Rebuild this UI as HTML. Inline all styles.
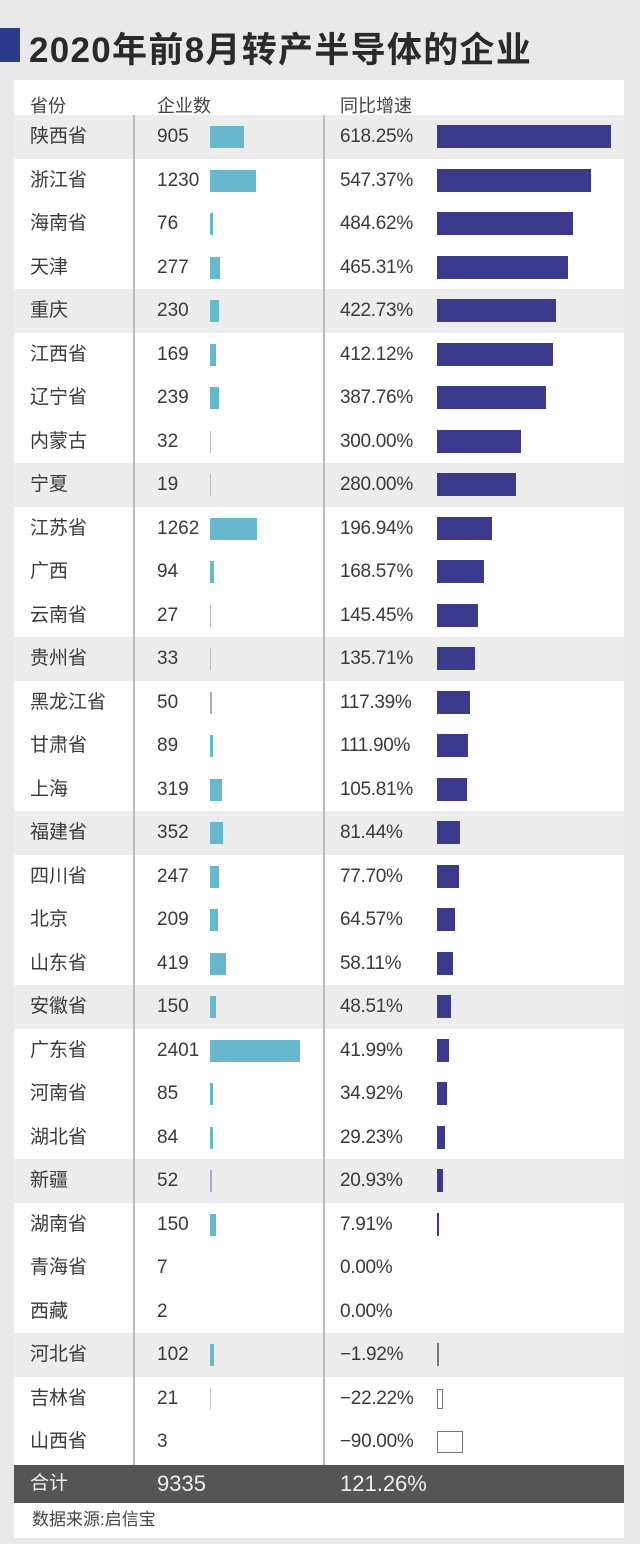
<!DOCTYPE html>
<html><head><meta charset="utf-8"><style>
*{margin:0;padding:0;box-sizing:border-box}
body{width:640px;height:1544px;background:#e9e9e9;font-family:"Liberation Sans","Noto Sans CJK SC",sans-serif;color:#3a3a3a;position:relative;overflow:hidden}
.tb{position:absolute;left:0;top:28px;width:20px;height:34px;background:#2d3a8c}
.title{position:absolute;left:29px;top:22px;font-size:35px;font-weight:bold;color:#2a2a2a;letter-spacing:1.3px;white-space:nowrap}
.panel{position:absolute;left:14px;top:80px;width:610px;height:1458px;background:#fff}
.hdr{position:absolute;top:92px;font-size:18px;color:#444}
.rows{position:absolute;left:14px;top:115px;width:610px}
.r{position:relative;height:43.5px;font-size:19px;line-height:43.5px}
.r.s{background:#ededed}
.r span{position:absolute;top:0}
.n{left:16px}.c{left:143px}.p{left:326px;letter-spacing:-0.3px}
.cb{position:absolute;left:196px;top:11px;height:22px;background:#67b8cc}
.pb{position:absolute;left:423px;top:10px;height:23px;background:#3b3a8c}
.ob{position:absolute;left:423px;top:12px;height:20px;border:1.5px solid #777;background:#fff}
.v{position:absolute;top:115px;width:1.5px;height:1350px;background:#bbb}
.tot{position:absolute;left:14px;top:1465px;width:610px;height:38px;background:#555;color:#eee;font-size:22px;line-height:38px}
.tot span{position:absolute;top:0}
.src{position:absolute;left:32px;top:1505px;font-size:17px;color:#444}
</style></head><body>
<div class="tb"></div>
<div class="title">2020年前8月转产半导体的企业</div>
<div class="panel"></div>
<div class="hdr" style="left:30px">省份</div>
<div class="hdr" style="left:157px">企业数</div>
<div class="hdr" style="left:340px">同比增速</div>
<div class="rows">
<div class="r s"><span class="n">陕西省</span><span class="c">905</span><i class="cb" style="width:34px"></i><span class="p">618.25%</span><i class="pb" style="width:174px"></i></div>
<div class="r"><span class="n">浙江省</span><span class="c">1230</span><i class="cb" style="width:46px"></i><span class="p">547.37%</span><i class="pb" style="width:154px"></i></div>
<div class="r"><span class="n">海南省</span><span class="c">76</span><i class="cb" style="width:3px"></i><span class="p">484.62%</span><i class="pb" style="width:136px"></i></div>
<div class="r"><span class="n">天津</span><span class="c">277</span><i class="cb" style="width:10px"></i><span class="p">465.31%</span><i class="pb" style="width:131px"></i></div>
<div class="r s"><span class="n">重庆</span><span class="c">230</span><i class="cb" style="width:9px"></i><span class="p">422.73%</span><i class="pb" style="width:119px"></i></div>
<div class="r"><span class="n">江西省</span><span class="c">169</span><i class="cb" style="width:6px"></i><span class="p">412.12%</span><i class="pb" style="width:116px"></i></div>
<div class="r"><span class="n">辽宁省</span><span class="c">239</span><i class="cb" style="width:9px"></i><span class="p">387.76%</span><i class="pb" style="width:109px"></i></div>
<div class="r"><span class="n">内蒙古</span><span class="c">32</span><i class="cb" style="width:1px;background:#bbb"></i><span class="p">300.00%</span><i class="pb" style="width:84px"></i></div>
<div class="r s"><span class="n">宁夏</span><span class="c">19</span><i class="cb" style="width:1px;background:#bbb"></i><span class="p">280.00%</span><i class="pb" style="width:79px"></i></div>
<div class="r"><span class="n">江苏省</span><span class="c">1262</span><i class="cb" style="width:47px"></i><span class="p">196.94%</span><i class="pb" style="width:55px"></i></div>
<div class="r"><span class="n">广西</span><span class="c">94</span><i class="cb" style="width:4px"></i><span class="p">168.57%</span><i class="pb" style="width:47px"></i></div>
<div class="r"><span class="n">云南省</span><span class="c">27</span><i class="cb" style="width:1px;background:#bbb"></i><span class="p">145.45%</span><i class="pb" style="width:41px"></i></div>
<div class="r s"><span class="n">贵州省</span><span class="c">33</span><i class="cb" style="width:1px;background:#bbb"></i><span class="p">135.71%</span><i class="pb" style="width:38px"></i></div>
<div class="r"><span class="n">黑龙江省</span><span class="c">50</span><i class="cb" style="width:2px;background:#aac"></i><span class="p">117.39%</span><i class="pb" style="width:33px"></i></div>
<div class="r"><span class="n">甘肃省</span><span class="c">89</span><i class="cb" style="width:3px"></i><span class="p">111.90%</span><i class="pb" style="width:31px"></i></div>
<div class="r"><span class="n">上海</span><span class="c">319</span><i class="cb" style="width:12px"></i><span class="p">105.81%</span><i class="pb" style="width:30px"></i></div>
<div class="r s"><span class="n">福建省</span><span class="c">352</span><i class="cb" style="width:13px"></i><span class="p">81.44%</span><i class="pb" style="width:23px"></i></div>
<div class="r"><span class="n">四川省</span><span class="c">247</span><i class="cb" style="width:9px"></i><span class="p">77.70%</span><i class="pb" style="width:22px"></i></div>
<div class="r"><span class="n">北京</span><span class="c">209</span><i class="cb" style="width:8px"></i><span class="p">64.57%</span><i class="pb" style="width:18px"></i></div>
<div class="r"><span class="n">山东省</span><span class="c">419</span><i class="cb" style="width:16px"></i><span class="p">58.11%</span><i class="pb" style="width:16px"></i></div>
<div class="r s"><span class="n">安徽省</span><span class="c">150</span><i class="cb" style="width:6px"></i><span class="p">48.51%</span><i class="pb" style="width:14px"></i></div>
<div class="r"><span class="n">广东省</span><span class="c">2401</span><i class="cb" style="width:90px"></i><span class="p">41.99%</span><i class="pb" style="width:12px"></i></div>
<div class="r"><span class="n">河南省</span><span class="c">85</span><i class="cb" style="width:3px"></i><span class="p">34.92%</span><i class="pb" style="width:10px"></i></div>
<div class="r"><span class="n">湖北省</span><span class="c">84</span><i class="cb" style="width:3px"></i><span class="p">29.23%</span><i class="pb" style="width:8px"></i></div>
<div class="r s"><span class="n">新疆</span><span class="c">52</span><i class="cb" style="width:2px;background:#aac"></i><span class="p">20.93%</span><i class="pb" style="width:6px"></i></div>
<div class="r"><span class="n">湖南省</span><span class="c">150</span><i class="cb" style="width:6px"></i><span class="p">7.91%</span><i class="pb" style="width:2px"></i></div>
<div class="r"><span class="n">青海省</span><span class="c">7</span><span class="p">0.00%</span></div>
<div class="r"><span class="n">西藏</span><span class="c">2</span><span class="p">0.00%</span></div>
<div class="r s"><span class="n">河北省</span><span class="c">102</span><i class="cb" style="width:4px"></i><span class="p">−1.92%</span><i class="pb" style="width:1.5px;background:#777"></i></div>
<div class="r"><span class="n">吉林省</span><span class="c">21</span><i class="cb" style="width:1px;background:#ccc"></i><span class="p">−22.22%</span><i class="ob" style="width:6px"></i></div>
<div class="r"><span class="n">山西省</span><span class="c">3</span><span class="p">−90.00%</span><i class="ob" style="width:26px;height:22px;top:11px"></i></div>
</div>
<div class="v" style="left:133px"></div>
<div class="v" style="left:323px"></div>
<div class="tot"><span style="left:16px;font-size:19px">合计</span><span style="left:143px">9335</span><span style="left:326px">121.26%</span></div>
<div class="src">数据来源:启信宝</div>
</body></html>
